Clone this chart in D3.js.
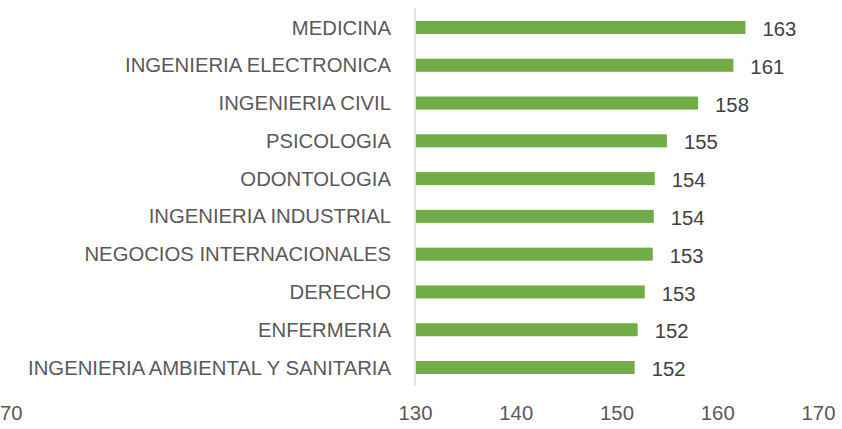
<!DOCTYPE html>
<html>
<head>
<meta charset="utf-8">
<script src="https://cdn.jsdelivr.net/npm/d3@7"></script>
<style>
  body { margin: 0; background: #fff; }
  text { font-family: "Liberation Sans", Arial, sans-serif; }
</style>
</head>
<body>
<div id="chart"></div>
<script>
// careers, top to bottom
let careers = [
  "MEDICINA",
  "INGENIERIA ELECTRONICA",
  "INGENIERIA CIVIL",
  "PSICOLOGIA",
  "ODONTOLOGIA",
  "INGENIERIA INDUSTRIAL",
  "NEGOCIOS INTERNACIONALES",
  "DERECHO",
  "ENFERMERIA",
  "INGENIERIA AMBIENTAL Y SANITARIA"
];

// bar lengths
let values = [162.8, 161.6, 158.1, 155.0, 153.8, 153.7, 153.6, 152.8, 152.1, 151.8];

// data labels as printed
let valueLabels = ["163", "161", "158", "155", "154", "154", "153", "153", "152", "152"];

let xTicks = [130, 140, 150, 160, 170];
// leftover tick label seen at the far left edge
let strayLabel = "70";

let svg_width = 842;
let svg_height = 429;
let fontSize = "20.3px";

let svg = d3.select("#chart")
  .append("svg")
  .attr("width", svg_width)
  .attr("height", svg_height);

// scales
let x = d3.scaleLinear()
  .domain([130, 170])
  .range([415, 818]);

let y = d3.scaleBand()
  .domain(careers)
  .range([8.6, 386.4])
  .paddingInner(0.655)
  .paddingOuter(0.3275);

// vertical axis line
svg.append("line")
  .attr("x1", x(130)).attr("x2", x(130))
  .attr("y1", 8).attr("y2", 386)
  .attr("stroke", "#d9d9d9")
  .attr("stroke-width", 1.5);

// bars
svg.selectAll("rect.bar")
  .data(careers)
  .enter()
  .append("rect")
  .attr("class", "bar")
  .attr("x", x(130) + 1)
  .attr("y", d => y(d))
  .attr("width", (d, i) => x(values[i]) - x(130) - 1)
  .attr("height", y.bandwidth())
  .attr("fill", "#70ad47");

// category labels
svg.selectAll("text.cat")
  .data(careers)
  .enter()
  .append("text")
  .attr("class", "cat")
  .attr("x", 391)
  .attr("y", d => y(d) + y.bandwidth() / 2)
  .attr("dy", "0.35em")
  .attr("text-anchor", "end")
  .attr("font-size", fontSize)
  .attr("fill", "#595959")
  .text(d => d);

// value labels
svg.selectAll("text.val")
  .data(careers)
  .enter()
  .append("text")
  .attr("class", "val")
  .attr("x", (d, i) => x(values[i]) + 17)
  .attr("y", d => y(d) + y.bandwidth() / 2 + 1.5)
  .attr("dy", "0.35em")
  .attr("font-size", fontSize)
  .attr("fill", "#404040")
  .text((d, i) => valueLabels[i]);

// x axis tick labels
let xAxis = d3.axisBottom(x)
  .tickValues(xTicks)
  .tickSize(0)
  .tickPadding(0);

let axisG = svg.append("g")
  .attr("transform", "translate(0, 406)")
  .call(xAxis);

axisG.select(".domain").remove();
axisG.selectAll("text")
  .attr("font-family", "'Liberation Sans', Arial, sans-serif")
  .attr("font-size", fontSize)
  .attr("fill", "#595959")
  .attr("dy", "0.35em")
  .attr("y", 7);

// label at far left
svg.append("text")
  .attr("x", 0)
  .attr("y", 413)
  .attr("dy", "0.35em")
  .attr("font-size", fontSize)
  .attr("fill", "#595959")
  .text(strayLabel);
</script>
</body>
</html>
